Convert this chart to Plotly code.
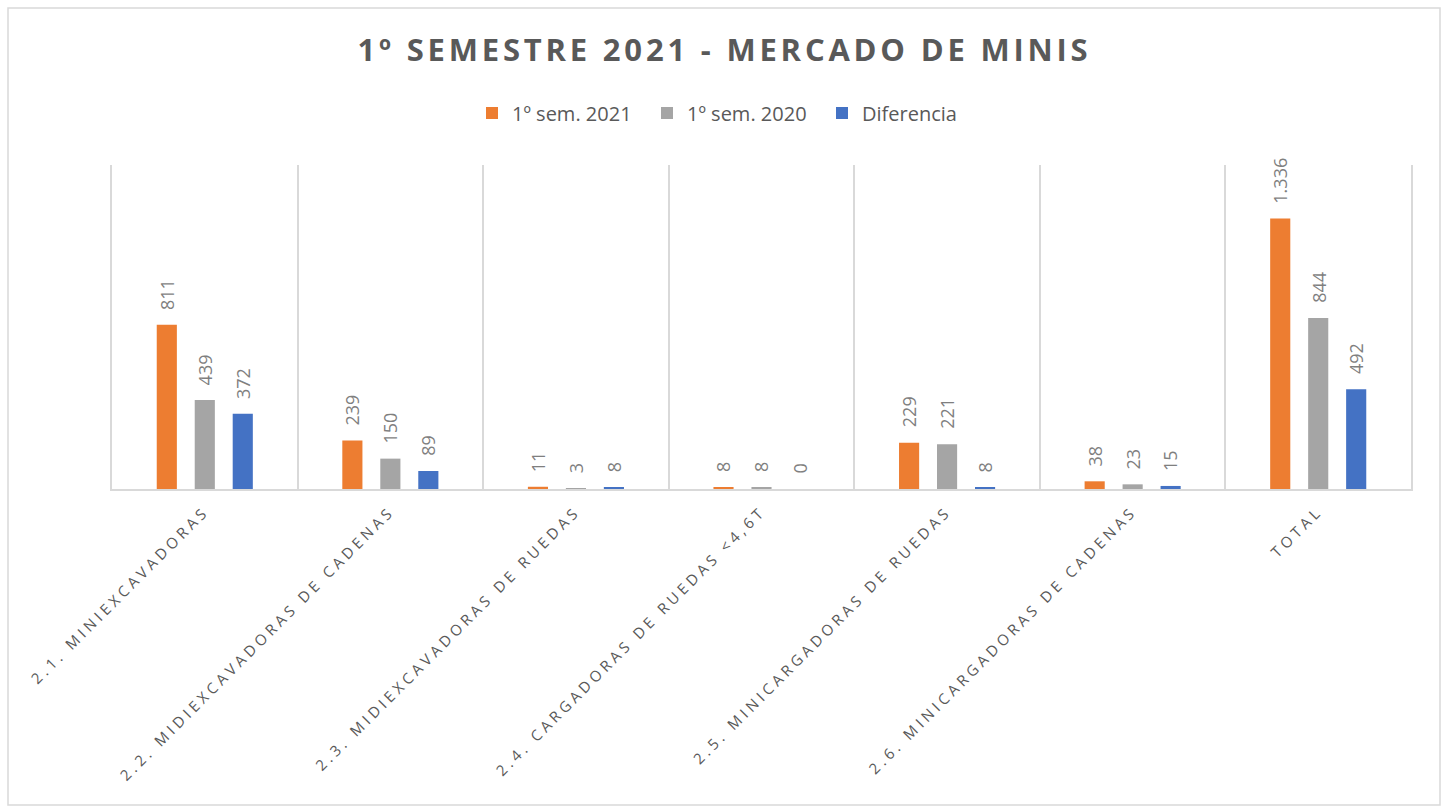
import plotly.graph_objects as go

categories = [
    "2.1. MINIEXCAVADORAS",
    "2.2. MIDIEXCAVADORAS DE CADENAS",
    "2.3. MIDIEXCAVADORAS DE RUEDAS",
    "2.4. CARGADORAS DE RUEDAS <4,6T",
    "2.5. MINICARGADORAS DE RUEDAS",
    "2.6. MINICARGADORAS DE CADENAS",
    "TOTAL",
]
sem_2021 = [811, 239, 11, 8, 229, 38, 1336]
sem_2020 = [439, 150, 3, 8, 221, 23, 844]
diferencia = [372, 89, 8, 0, 8, 15, 492]
series_names = ["1º sem. 2021", "1º sem. 2020", "Diferencia"]
colors = ["#ED7D31", "#A5A5A5", "#4472C4"]

W, H = 1449, 811
L, R, T, B = 112, 38, 165, 322
pw, ph = W - L - R, H - T - B
group_shift = [-38, 0, 38]  # px offset of each series' bar centre within a category


def fmt(v):
    return "{:,}".format(v).replace(",", ".")


tick_labels = ['<span style="letter-spacing:3.9px">%s</span>' % c.replace("<", "&lt;") for c in categories]

fig = go.Figure()
annotations = []
for j, (name, vals, col) in enumerate(zip(series_names, [sem_2021, sem_2020, diferencia], colors)):
    fig.add_trace(go.Bar(
        name=name, x=categories, y=vals, marker=dict(color=col, line=dict(width=0)),
        hoverinfo="x+y+name",
    ))
    for c, v in zip(categories, vals):
        annotations.append(dict(
            x=c, y=v, xref="x", yref="y", text=fmt(v), showarrow=False,
            textangle=-90, yanchor="bottom", xanchor="center",
            xshift=group_shift[j], yshift=13,
            font=dict(family="Open Sans", size=18, color="#7F7F7F"),
        ))

fig.update_layout(
    width=W, height=H,
    margin=dict(l=L, r=R, t=T, b=B),
    paper_bgcolor="white", plot_bgcolor="white",
    separators=",.",
    barmode="group", bargap=0.386, bargroupgap=0.47,
    title=dict(
        text='<span style="letter-spacing:3.8px"><b>1º SEMESTRE 2021 - MERCADO DE MINIS</b></span>',
        x=0.5, xanchor="center", y=1 - 50 / H, yanchor="middle",
        font=dict(family="Open Sans", size=31, color="#595959"),
    ),
    legend=dict(
        orientation="h", x=(W / 2 + 10 - L) / pw, xanchor="center", y=1 + (T - 113) / ph, yanchor="middle",
        font=dict(family="Open Sans", size=20, color="#595959"),
        itemwidth=30, traceorder="normal", entrywidth=130,
    ),
    showlegend=True,
    annotations=annotations,
    xaxis=dict(
        tickmode="array", tickvals=categories, ticktext=tick_labels,
        tickangle=-45, tickson="boundaries", ticks="",
        showgrid=True, gridcolor="#D9D9D9", gridwidth=1.5,
        showline=True, linecolor="#D9D9D9", linewidth=1.5,
        tickfont=dict(family="Open Sans", size=15, color="#595959"),
        ticklabelstandoff=6,
    ),
    yaxis=dict(
        range=[0, 1600], showticklabels=False, showgrid=False, zeroline=False,
        showline=True, mirror=True, linecolor="#D9D9D9", linewidth=1.5,
    ),
    shapes=[dict(
        type="rect", xref="paper", yref="paper",
        x0=(8 - L) / pw, x1=(1440 - L) / pw,
        y0=(H - B - 805) / ph, y1=1 + (T - 8) / ph,
        line=dict(color="#D9D9D9", width=1.5), fillcolor="rgba(0,0,0,0)", layer="below",
    )],
)

fig.write_html(
    "out.html",
    config={"displayModeBar": False},
    post_script="document.body.style.margin='0';document.body.style.overflow='hidden';",
)
